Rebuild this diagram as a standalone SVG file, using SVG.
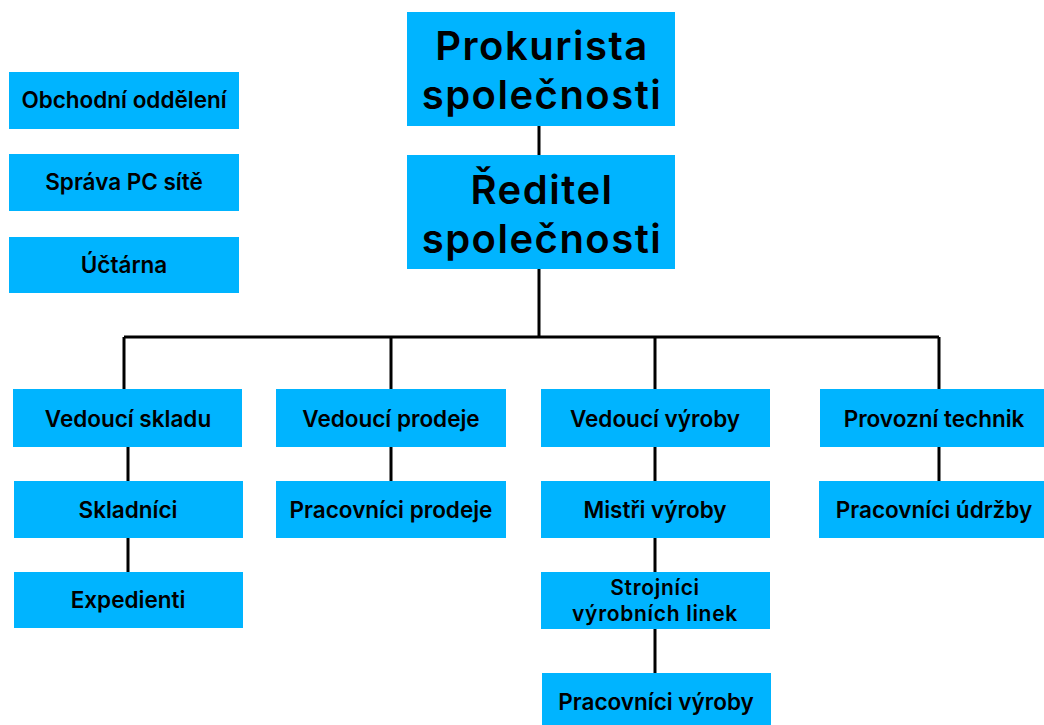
<svg xmlns="http://www.w3.org/2000/svg" width="1044" height="725" viewBox="0 0 1044 725">
<style>
.box{fill:#00B4FF;}
.t{font-family:Inter,"Noto Sans","DejaVu Sans",sans-serif;font-weight:600;font-size:22.5px;fill:#000;text-anchor:middle;}
.big{font-size:40px;letter-spacing:1.5px;}
.two{font-size:21px;letter-spacing:0.7px;}
.con{stroke:#000;stroke-width:3;fill:none;}
</style>
<rect width="1044" height="725" fill="#fff"/>
<g id="connectors">
<path class="con" d="M539 126V155M539 269V337M124 337H939M124 337V389M391 337V389M655 337V389M939 337V389M128 447V481M128 538V572M391 447V481M655 447V481M655 538V572M655 629V673M939 447V481"/>
</g>
<g id="prokurista"><rect class="box" x="407" y="12" width="268" height="114"/><text class="t big" x="542" y="60">Prokurista</text><text class="t big" x="542" y="109">společnosti</text></g>
<g id="reditel"><rect class="box" x="407" y="155" width="268" height="114"/><text class="t big" x="542" y="204">Ředitel</text><text class="t big" x="542" y="253">společnosti</text></g>
<g id="obchodni"><rect class="box" x="9" y="72" width="230" height="57"/><text class="t" x="124" y="108">Obchodní oddělení</text></g>
<g id="sprava"><rect class="box" x="9" y="154" width="230" height="57"/><text class="t" x="124" y="190">Správa PC sítě</text></g>
<g id="uctarna"><rect class="box" x="9" y="237" width="230" height="56"/><text class="t" x="124" y="273">Účtárna</text></g>
<g id="vedouci-skladu"><rect class="box" x="13" y="389" width="229" height="58"/><text class="t" x="128" y="427">Vedoucí skladu</text></g>
<g id="skladnici"><rect class="box" x="14" y="481" width="229" height="57"/><text class="t" x="128" y="518">Skladníci</text></g>
<g id="expedienti"><rect class="box" x="14" y="572" width="229" height="56"/><text class="t" x="128" y="608">Expedienti</text></g>
<g id="vedouci-prodeje"><rect class="box" x="276" y="389" width="230" height="58"/><text class="t" x="391" y="427">Vedoucí prodeje</text></g>
<g id="pracovnici-prodeje"><rect class="box" x="276" y="481" width="230" height="57"/><text class="t" x="391" y="518">Pracovníci prodeje</text></g>
<g id="vedouci-vyroby"><rect class="box" x="541" y="389" width="229" height="58"/><text class="t" x="655" y="427">Vedoucí výroby</text></g>
<g id="mistri-vyroby"><rect class="box" x="541" y="481" width="229" height="57"/><text class="t" x="655" y="518">Mistři výroby</text></g>
<g id="strojnici"><rect class="box" x="541" y="572" width="229" height="57"/><text class="t two" x="655" y="595">Strojníci</text><text class="t two" x="655" y="621">výrobních linek</text></g>
<g id="pracovnici-vyroby"><rect class="box" x="542" y="673" width="229" height="57"/><text class="t" x="656" y="710">Pracovníci výroby</text></g>
<g id="provozni-technik"><rect class="box" x="820" y="389" width="229" height="58"/><text class="t" x="934" y="427">Provozní technik</text></g>
<g id="pracovnici-udrzby"><rect class="box" x="819" y="481" width="229" height="57"/><text class="t" x="934" y="518">Pracovníci údržby</text></g>
</svg>
